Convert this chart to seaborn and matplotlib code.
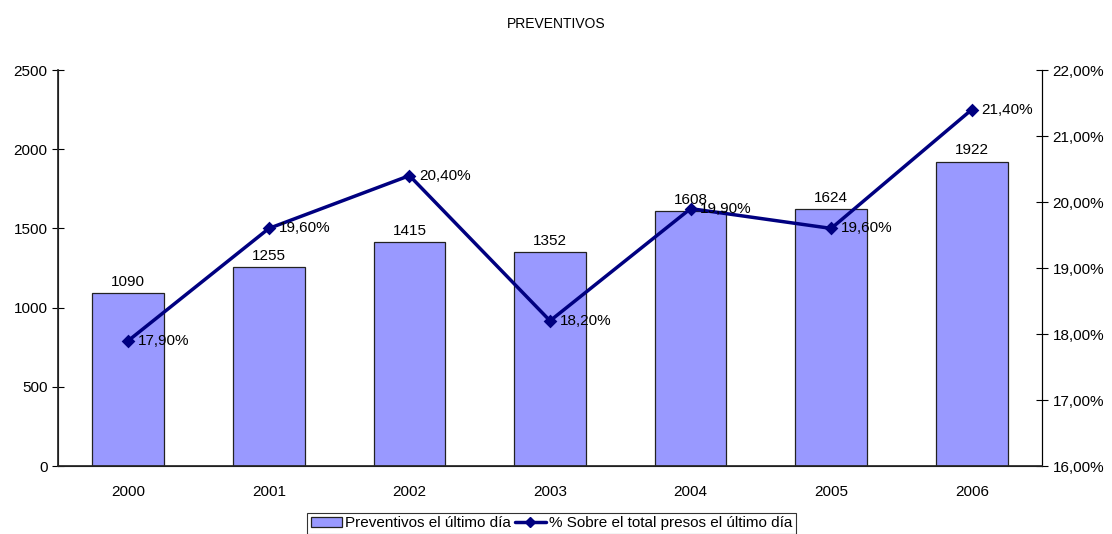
import matplotlib
matplotlib.use("Agg")
import matplotlib.pyplot as plt
import matplotlib.ticker as mtick
from matplotlib.lines import Line2D
from matplotlib.patches import Patch
import pandas as pd
import seaborn as sns

# ── Data ───────────────────────────────────────────────────────────────────
years      = ["2000", "2001", "2002", "2003", "2004", "2005", "2006"]
preventivos = [1090, 1255, 1415, 1352, 1608, 1624, 1922]
pct_total   = [17.9, 19.6, 20.4, 18.2, 19.9, 19.6, 21.4]

BAR_LABEL  = "Preventivos el último día"
LINE_LABEL = "% Sobre el total presos el último día"

df = pd.DataFrame({"year": years, "prev": preventivos, "pct": pct_total})

sns.set_theme(style="white")
plt.rcParams["font.family"] = ["Liberation Sans", "DejaVu Sans"]
plt.rcParams["font.size"] = 11
for k in ["text.color", "axes.labelcolor", "xtick.color", "ytick.color"]:
    plt.rcParams[k] = "black"

FS = 11
BAR_COLOR  = "#9999FF"
LINE_COLOR = "#000080"

fig = plt.figure(figsize=(11.12, 5.34), dpi=100)
ax = fig.add_axes([0.0522, 0.1273, 0.8849, 0.7416])

# ── Bars ───────────────────────────────────────────────────────────────────
sns.barplot(data=df, x="year", y="prev", color=BAR_COLOR, saturation=1,
            width=0.51, edgecolor="#222222", linewidth=0.9, ax=ax)
for c in ax.containers:
    ax.bar_label(c, labels=[str(v) for v in preventivos], padding=3, fontsize=FS)

ax.set_ylim(0, 2500)
ax.set_yticks(range(0, 2501, 500))
ax.set_xlim(-0.5, len(years) - 0.5)
ax.set_xlabel(""); ax.set_ylabel("")
ax.set_xticks([i + 0.5 for i in range(-1, len(years))], minor=False)
ax.set_xticklabels([])
ax.set_xticks(range(len(years)), minor=True)
ax.set_xticklabels(years, minor=True)
ax.tick_params(axis="x", which="major", direction="out", length=6, width=0.8, color="black")
ax.tick_params(axis="x", which="minor", length=0, pad=14, labelsize=FS)
ax.tick_params(axis="y", direction="inout", length=8, width=0.8, color="black", labelsize=FS)
for s in ["left", "bottom", "right"]:
    ax.spines[s].set_color("black"); ax.spines[s].set_linewidth(0.8)
ax.spines["top"].set_visible(False)

# ── Line on secondary axis ─────────────────────────────────────────────────
ax2 = ax.twinx()
sns.pointplot(data=df, x="year", y="pct", color=LINE_COLOR, marker="D",
              markersize=5.5, linewidth=2.5, ax=ax2)
ax2.set_ylim(16, 22)
ax2.set_yticks(range(16, 23))
ax2.yaxis.set_major_formatter(mtick.FuncFormatter(lambda v, _: f"{v:.2f}%".replace(".", ",")))
ax2.set_xlim(-0.5, len(years) - 0.5)
ax2.set_ylabel("")
ax2.tick_params(axis="y", direction="inout", length=8, width=0.8, color="black", labelsize=FS)
ax2.spines["top"].set_visible(False)
ax2.spines["right"].set_color("black"); ax2.spines["right"].set_linewidth(0.8)
for i, v in enumerate(pct_total):
    ax2.annotate(f"{v:.2f}%".replace(".", ","), (i, v), xytext=(7, 0),
                 textcoords="offset points", va="center", ha="left", fontsize=FS)

fig.text(0.5, 0.955, "PREVENTIVOS", ha="center", va="center", fontsize=10)

# ── Legend ─────────────────────────────────────────────────────────────────
handles = [Patch(facecolor=BAR_COLOR, edgecolor="#222222", linewidth=0.9),
           Line2D([0], [0], color=LINE_COLOR, lw=2.5, marker="D", markersize=5.5)]
leg = fig.legend(handles, [BAR_LABEL, LINE_LABEL], loc="upper center",
                 bbox_to_anchor=(0.496, 0.04), ncol=2, frameon=True, fancybox=False,
                 edgecolor="black", fontsize=FS, handlelength=2.0, handletextpad=0.2,
                 columnspacing=0.3, borderpad=0.25, borderaxespad=0)
leg.get_frame().set_linewidth(0.8)

fig.savefig("out.png", dpi=100)
